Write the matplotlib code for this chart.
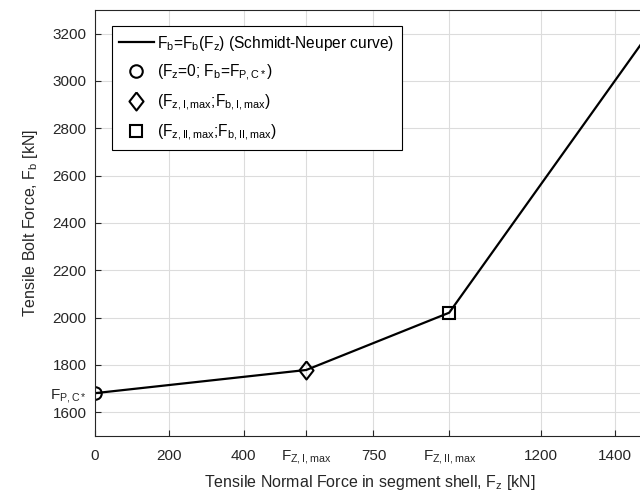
import numpy as np
import matplotlib
matplotlib.use('Agg')
import matplotlib.pyplot as plt

plt.rcParams['font.family'] = ['Liberation Sans', 'DejaVu Sans']
plt.rcParams['mathtext.fontset'] = 'custom'
plt.rcParams['mathtext.rm'] = 'Liberation Sans'
plt.rcParams['mathtext.it'] = 'Liberation Sans:italic'
plt.rcParams['mathtext.bf'] = 'Liberation Sans:bold'

# Schmidt-Neuper curve, F_z [kN] vs F_b [kN]
curve_fz = [0, 569, 954, 1480]
curve_fb = [1681, 1779, 2021, 3176]

# characteristic points
fz_0, fb_pc = 0, 1681
fz_1, fb_1 = 569, 1779
fz_2, fb_2 = 954, 2021

xticks = [0, 200, 400, fz_1, 750, fz_2, 1200, 1400]
xticklabels = ['0', '200', '400', r'F$_\mathrm{Z,I,max}$', '750', r'F$_\mathrm{Z,II,max}$', '1200', '1400']
yticks = [1600, fb_pc, 1800, 2000, 2200, 2400, 2600, 2800, 3000, 3200]
yticklabels = ['1600', r'F$_\mathrm{P,C*}$', '1800', '2000', '2200', '2400', '2600', '2800', '3000', '3200']

dark = '#262626'
diamond = [(0, 1), (0.78, 0), (0, -1), (-0.78, 0), (0, 1)]

fig = plt.figure(figsize=(6.4, 5.04), dpi=100)
ax = fig.add_axes([95/640, 68/504, (644.5-95)/640, 426/504])

ax.plot(curve_fz, curve_fb, color='k', lw=1.6,
        label=r'F$_\mathrm{b}$=F$_\mathrm{b}$(F$_\mathrm{z}$) (Schmidt-Neuper curve)')
ms = dict(ls='none', mfc='none', mec='k', mew=1.5)
ax.plot([fz_0], [fb_pc], marker='o', ms=9, label=r'(F$_\mathrm{z}$=0; F$_\mathrm{b}$=F$_\mathrm{P,C*}$)', **ms)
ax.plot([fz_1], [fb_1], marker=diamond, ms=13, label=r'(F$_\mathrm{z,I,max}$;F$_\mathrm{b,I,max}$)', **ms)
ax.plot([fz_2], [fb_2], marker='s', ms=8.5, label=r'(F$_\mathrm{z,II,max}$;F$_\mathrm{b,II,max}$)', **ms)

ax.set_xlim(0, 1480)
ax.set_ylim(1500, 3300)
ax.set_xticks(xticks)
ax.set_xticklabels(xticklabels)
ax.set_yticks(yticks)
ax.set_yticklabels(yticklabels)
ax.tick_params(direction='in', length=4, width=0.8, colors=dark, labelsize=11, labelcolor=dark)
ax.tick_params(axis='x', pad=9)
ax.tick_params(axis='y', pad=6)
for sp in ax.spines.values():
    sp.set_color(dark)
    sp.set_linewidth(0.8)
ax.grid(True, color='#dcdcdc', lw=0.8)
ax.set_axisbelow(True)

ax.set_xlabel(r'Tensile Normal Force in segment shell, F$_\mathrm{z}$ [kN]', fontsize=11.5, color=dark, labelpad=5)
ax.set_ylabel(r'Tensile Bolt Force, F$_\mathrm{b}$ [kN]', fontsize=11.5, color=dark, labelpad=7)

leg = ax.legend(loc='upper left', bbox_to_anchor=(16.5/549.5, 1 - 16/426), fontsize=11.2,
                fancybox=False, framealpha=1, edgecolor='k', handlelength=2.2,
                borderpad=0.5, labelspacing=0.62, handletextpad=0.22, borderaxespad=0)
leg.get_frame().set_linewidth(0.8)

fig.savefig('out.png', dpi=100)
